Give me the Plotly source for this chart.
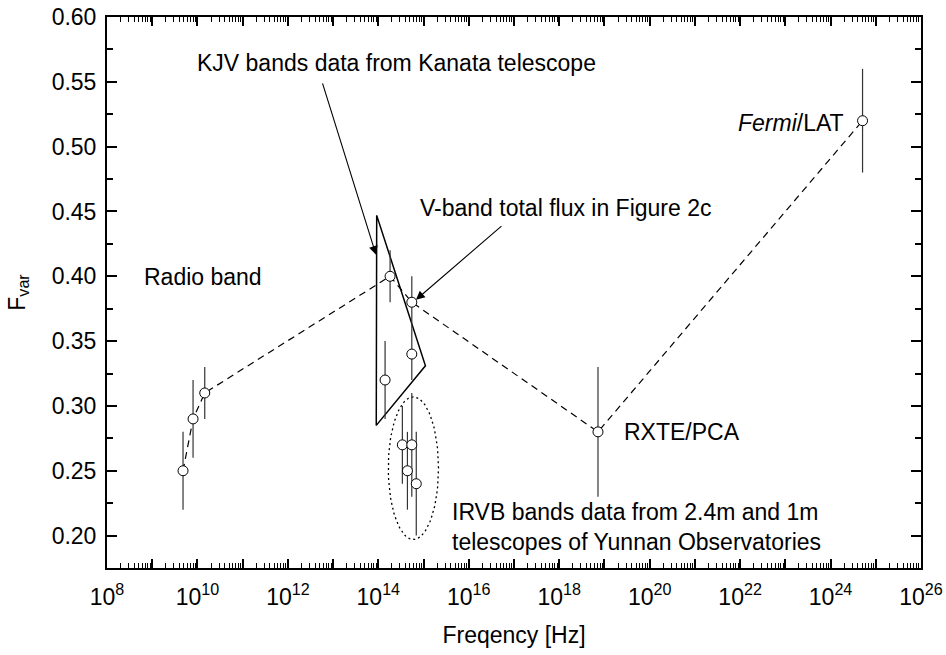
import math
import plotly.graph_objects as go

# Connected series: radio, near-IR/optical (Kanata J and V), X-ray, gamma-ray
chain_freq = [4.8e9, 8.0e9, 1.45e10, 1.82e14, 5.5e14, 7.2e18, 5.1e24]
chain_fvar = [0.25, 0.29, 0.31, 0.40, 0.38, 0.28, 0.52]
chain_err = [0.03, 0.03, 0.02, 0.02, 0.02, 0.05, 0.04]

# Other Kanata KJV points
kanata_freq = [1.41e14, 5.5e14]
kanata_fvar = [0.32, 0.34]
kanata_err = [0.03, 0.02]

# IRVB points from the 2.4 m and 1 m Yunnan telescopes
yunnan_freq = [3.4e14, 4.4e14, 5.5e14, 6.9e14]
yunnan_fvar = [0.27, 0.25, 0.27, 0.24]
yunnan_err = [0.03, 0.03, 0.04, 0.04]

# Outline enclosing the Kanata KJV points
kjv_box_freq = [9.2e13, 1.1e15, 9.0e13, 9.2e13]
kjv_box_fvar = [0.447, 0.331, 0.285, 0.447]

x_major = [10.0 ** k for k in range(8, 27)]
x_text = ["10<sup>%d</sup>" % k if k % 2 == 0 else "" for k in range(8, 27)]
x_minor = [m * 10.0 ** k for k in range(8, 26) for m in range(2, 10)]
y_major = [0.20, 0.25, 0.30, 0.35, 0.40, 0.45, 0.50, 0.55, 0.60]

FONT = "Liberation Sans, Arial, sans-serif"
FS = 23
BLACK = "#000000"
BAR = "#333333"

marker = dict(symbol="circle", size=10, color="white",
              line=dict(color=BLACK, width=1))


def err(vals):
    return dict(type="data", array=vals, visible=True, color=BAR,
                thickness=1.2, width=0)


L = math.log10

# dotted ellipse (in log-frequency space) around the Yunnan points
ell_cx, ell_rx = (L(1.66e14) + L(2.14e15)) / 2, (L(2.14e15) - L(1.66e14)) / 2
ell_cy, ell_ry = (0.197 + 0.307) / 2, (0.307 - 0.197) / 2
ell_t = [2 * math.pi * i / 120 for i in range(121)]
ell_x = [10 ** (ell_cx + ell_rx * math.cos(t)) for t in ell_t]
ell_y = [ell_cy + ell_ry * math.sin(t) for t in ell_t]

fig = go.Figure()
fig.add_trace(go.Scatter(
    x=ell_x, y=ell_y, mode="lines",
    line=dict(color=BLACK, width=1.3, dash="2px,3px"), hoverinfo="skip"))
fig.add_trace(go.Scatter(
    x=kjv_box_freq, y=kjv_box_fvar, mode="lines",
    line=dict(color=BLACK, width=1.5), hoverinfo="skip"))
fig.add_trace(go.Scatter(
    x=kanata_freq, y=kanata_fvar, mode="markers", marker=marker,
    error_y=err(kanata_err)))
fig.add_trace(go.Scatter(
    x=yunnan_freq, y=yunnan_fvar, mode="markers", marker=marker,
    error_y=err(yunnan_err)))
fig.add_trace(go.Scatter(
    x=chain_freq, y=chain_fvar, mode="lines+markers", marker=marker,
    line=dict(color=BLACK, width=1.2, dash="7px,5px"),
    error_y=err(chain_err)))

annots = [
    dict(x=L(9e9), y=0.5645, text="KJV bands data from Kanata telescope",
         xanchor="left", showarrow=False),
    dict(x=L(7.6e14), y=0.4528, text="V-band total flux in Figure 2c",
         xanchor="left", showarrow=False),
    dict(x=L(5.85e8), y=0.3996, text="Radio band", xanchor="left",
         showarrow=False),
    dict(x=L(2.2e24), y=0.518, text="<i>Fermi</i>/LAT", xanchor="right",
         showarrow=False),
    dict(x=L(2.4e19), y=0.28, text="RXTE/PCA", xanchor="left",
         showarrow=False),
    dict(x=L(3.85e15), y=0.2066,
         text="IRVB bands data from 2.4m and 1m<br>telescopes of Yunnan Observatories",
         xanchor="left", align="left", showarrow=False),
    # arrows
    dict(x=L(8.9e13), y=0.4166, ax=L(5.7e12), ay=0.55, axref="x", ayref="y",
         text="", showarrow=True, arrowhead=2, arrowsize=1.6, arrowwidth=1.1,
         arrowcolor=BLACK),
    dict(x=L(6.8e14), y=0.3819, ax=L(5.7e16), ay=0.4397, axref="x", ayref="y",
         text="", showarrow=True, arrowhead=2, arrowsize=1.6, arrowwidth=1.1,
         arrowcolor=BLACK),
]
for a in annots:
    a.setdefault("font", dict(family=FONT, size=FS, color=BLACK))
    a["xref"] = "x"
    a["yref"] = "y"
fig.update_layout(annotations=annots)

fig.update_layout(
    width=946, height=655,
    margin=dict(l=107, r=25, t=17, b=87),
    paper_bgcolor="white", plot_bgcolor="white",
    showlegend=False,
    font=dict(family=FONT, size=FS, color=BLACK),
)
fig.update_xaxes(
    type="log", range=[8, 26], automargin=False,
    tickmode="array", tickvals=x_major, ticktext=x_text,
    ticks="inside", ticklen=9, tickwidth=1.5, tickcolor=BLACK,
    minor=dict(tickmode="array", tickvals=x_minor, ticks="inside",
               ticklen=5, tickwidth=1, tickcolor=BLACK),
    showline=True, linewidth=2, linecolor=BLACK, mirror="allticks",
    showgrid=False, zeroline=False,
    tickfont=dict(family=FONT, size=FS),
    ticklabelstandoff=7,
    title=dict(text="Freqency [Hz]", font=dict(family=FONT, size=FS),
               standoff=18),
)
fig.update_yaxes(
    range=[0.175, 0.60], automargin=False,
    tickmode="array", tickvals=y_major, tickformat=".2f",
    ticks="inside", ticklen=10, tickwidth=1.5, tickcolor=BLACK,
    minor=dict(dtick=0.025, ticks="inside", ticklen=6, tickwidth=1.5,
               tickcolor=BLACK),
    showline=True, linewidth=2, linecolor=BLACK, mirror="allticks",
    showgrid=False, zeroline=False,
    tickfont=dict(family=FONT, size=FS),
    ticklabelstandoff=4,
    title=dict(text="F<sub>var</sub>", font=dict(family=FONT, size=FS),
               standoff=20),
)

fig.write_html("out.html")
